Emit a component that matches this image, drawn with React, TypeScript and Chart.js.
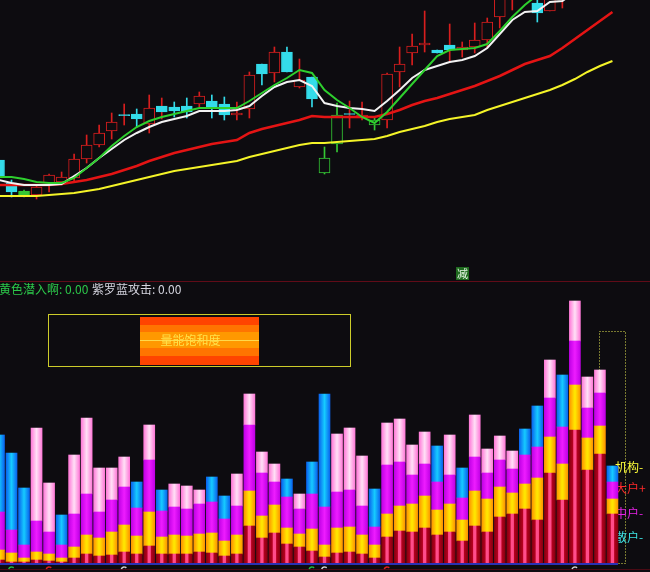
import React, { useEffect, useRef } from "react";
import { Chart, registerables } from "chart.js";

Chart.register(...registerables);

const BG = "#0d0c10";
const FONT = '"Noto Sans CJK SC", "Noto Sans", sans-serif';

// ---------- price panel data ----------
const open = [12.00,10.85,10.45,10.25,10.85,10.90,11.10,12.05,12.75,13.45,14.27,14.30,13.80,14.70,14.65,14.70,14.80,14.95,14.80,14.25,14.55,16.80,16.35,17.40,15.65,16.15,12.10,14.25,14.32,14.10,14.00,14.00,16.40,17.35,17.75,17.50,17.75,17.50,17.65,18.00,19.15,20.40,20.30,19.85,19.45,20.30,20.80,21.40,21.90,21.70];
const high = [12.20,11.00,10.50,10.70,11.30,11.40,12.30,13.25,13.75,14.35,14.80,14.55,15.25,15.10,14.90,15.10,15.40,15.25,15.15,14.90,16.40,16.80,17.65,17.65,17.05,16.15,12.65,14.85,14.95,14.90,14.10,16.35,17.65,18.30,19.45,17.50,18.80,17.90,18.85,19.10,20.50,21.20,21.10,20.20,20.70,21.20,21.60,22.10,22.30,22.60];
const low = [11.00,10.15,10.15,10.05,10.40,10.75,10.90,11.85,12.65,13.05,13.75,13.65,13.35,14.05,14.15,14.10,14.65,14.10,14.00,14.00,14.10,15.75,15.90,16.40,15.60,14.65,11.30,12.40,13.60,14.00,13.50,13.60,15.65,16.75,17.40,17.35,16.90,17.15,17.35,17.60,18.60,19.50,20.10,18.90,19.45,19.60,20.50,21.10,21.30,21.50];
const close = [11.15,10.40,10.25,10.65,11.25,11.15,12.05,12.75,13.35,13.90,14.22,14.05,14.60,14.40,14.45,14.40,15.20,14.60,14.25,14.35,16.25,16.30,17.40,16.40,16.00,15.05,11.35,12.80,14.28,14.25,13.75,16.30,16.80,17.70,17.85,17.35,17.50,17.65,18.00,18.90,20.25,21.00,20.90,19.35,20.50,20.90,21.40,21.90,21.60,22.40];
// u = red hollow, d = cyan, x = cyan with red wick, G = green filled, g = green hollow
const candleStyle = ["d","d","G","u","u","u","u","u","u","u","x","d","u","x","d","d","u","d","d","u","u","d","u","d","u","d","g","g","x","u","g","u","u","u","u","d","x","u","u","u","u","u","u","d","u","u","u","u","d","u"];

const ma5 = [11.15,11.15,11.05,10.90,10.85,10.85,11.10,11.60,12.10,12.70,13.20,13.65,13.95,14.15,14.30,14.45,14.60,14.60,14.60,14.60,14.95,15.35,15.75,16.10,16.50,16.35,15.50,15.00,14.60,14.15,13.85,14.40,15.10,15.80,16.50,17.20,17.50,17.55,17.60,17.80,18.45,19.15,19.75,20.25,20.75,21.25,21.75,22.25,22.75,23.25];
const ma10 = [11.00,10.85,10.75,10.75,10.75,10.80,11.20,11.60,12.10,12.55,13.00,13.35,13.65,13.90,14.05,14.20,14.45,14.45,14.45,14.50,14.70,15.20,15.65,15.90,16.00,15.70,14.85,14.70,14.60,14.55,14.45,14.95,15.50,16.10,16.50,16.70,16.90,17.00,17.20,17.60,18.30,19.00,19.40,19.45,19.90,19.95,20.40,20.80,21.20,21.60];
const ma20 = [10.75,10.75,10.75,10.75,10.75,10.80,10.90,11.00,11.15,11.30,11.50,11.70,11.95,12.15,12.35,12.50,12.65,12.80,12.90,13.00,13.35,13.55,13.70,13.85,14.00,14.20,14.15,14.15,14.15,14.15,14.15,14.30,14.50,14.75,14.95,15.10,15.30,15.50,15.70,15.95,16.20,16.50,16.80,17.00,17.20,17.60,18.05,18.50,18.95,19.40];
const ma60 = [10.20,10.20,10.20,10.20,10.25,10.30,10.35,10.45,10.55,10.70,10.85,11.00,11.15,11.30,11.45,11.55,11.65,11.75,11.85,11.95,12.15,12.30,12.45,12.60,12.75,12.85,12.85,12.90,12.95,13.00,13.05,13.20,13.40,13.55,13.70,13.90,14.05,14.15,14.25,14.50,14.70,14.90,15.10,15.30,15.50,15.75,16.05,16.40,16.70,16.95];

const SIGNAL_INDEX = 37;
const SIGNAL_TEXT = "减";

// ---------- volume panel data ----------
const dahu = [3,1,1,3,2,1,5,9,7,8,11,9,17,9,9,9,11,10,7,9,37,25,30,19,16,12,6,10,11,9,5,26,32,31,35,28,31,22,37,31,46,49,54,43,90,63,133,93,109,49];
const jigou = [10,9,4,8,7,4,11,19,18,23,27,18,34,17,19,18,18,20,15,19,35,22,28,16,13,22,12,25,25,19,13,23,25,28,32,25,28,21,35,33,30,21,25,42,36,36,45,32,28,15];
const zhonghu = [38,23,13,31,22,13,33,41,26,32,38,28,52,26,28,27,30,31,22,29,66,43,23,31,25,35,38,36,37,29,18,49,44,29,32,28,29,22,34,26,27,24,29,31,39,37,44,30,33,17];
const sanhu = [77,77,57,93,49,30,59,76,44,32,30,26,35,21,23,23,14,25,23,32,31,21,18,18,15,32,113,58,62,50,38,42,43,30,32,36,40,30,42,24,24,18,26,41,38,52,40,31,23,16];
const sanhuBlue = [1,1,1,0,0,1,0,0,0,0,0,1,0,1,0,0,0,1,1,0,0,0,0,1,0,1,1,0,0,0,1,0,0,0,0,1,0,1,0,0,0,0,1,1,0,1,0,0,0,1];

const headerItems = [
  { text: "黄色潜入啊: 0.00", color: "#2cc84a", x: -1 },
  { text: "紫罗蓝攻击: 0.00", color: "#d4d4de", x: 92 },
];
const gaugeLabel = "量能饱和度";
const legendItems = [
  { text: "机构-", color: "#ffff3a" },
  { text: "大户+", color: "#ff2a2a" },
  { text: "中户-", color: "#e622e6" },
  { text: "散户-", color: "#3ee6e6" },
];
const bottomMarks = [
  { i: 1, c: "#20c040" },
  { i: 4, c: "#e02020" },
  { i: 10, c: "#d0d0d0" },
  { i: 25, c: "#20c040" },
  { i: 26, c: "#d0d0d0" },
  { i: 31, c: "#e02020" },
  { i: 46, c: "#d0d0d0" },
];

const X_MIN = 0.08;
const X_MAX = 52.0;
const BAR_W = 11;
const CHART_W = 650;

const RED = "#d81e1e";
const CYAN = "#34dcea";
const GREEN = "#34c834";
const STYLE: Record<string, { fill: string; border: string; wick: string }> = {
  u: { fill: BG, border: RED, wick: RED },
  d: { fill: CYAN, border: CYAN, wick: CYAN },
  x: { fill: CYAN, border: CYAN, wick: RED },
  G: { fill: GREEN, border: GREEN, wick: GREEN },
  g: { fill: BG, border: GREEN, wick: GREEN },
};

const idx = open.map((_, i) => i);

function stripe(stops: [number, string][], fallback: string) {
  return (c: any) => {
    if (!c || c.type !== "data") return fallback;
    const chart = c.chart;
    const xs = chart.scales && chart.scales.x;
    const v = c.raw && c.raw.x !== undefined ? c.raw.x : c.dataIndex;
    let cx = xs ? xs.getPixelForValue(v) : NaN;
    if (!isFinite(cx)) {
      const ca = chart.chartArea;
      const left = ca && isFinite(ca.left) ? ca.left : 0;
      const w = ca && isFinite(ca.right) ? ca.right - ca.left : CHART_W;
      cx = left + ((v - X_MIN) / (X_MAX - X_MIN)) * w;
    }
    if (!isFinite(cx)) return fallback;
    const g = chart.ctx.createLinearGradient(cx - BAR_W / 2, 0, cx + BAR_W / 2, 0);
    stops.forEach(([o, col]) => g.addColorStop(o, col));
    return g;
  };
}

const redStops: [number, string][] = [[0, "#86000f"], [0.3, "#b4001e"], [0.4, "#ff4c8a"], [0.6, "#ff4c8a"], [0.7, "#b4001e"], [1, "#86000f"]];
const yellowStops: [number, string][] = [[0, "#ff9400"], [0.45, "#ffe400"], [0.55, "#ffe400"], [1, "#ff9400"]];
const magentaStops: [number, string][] = [[0, "#c000e6"], [0.5, "#ee1cff"], [1, "#c000e6"]];
const pinkStops: [number, string][] = [[0, "#ff7ad8"], [0.5, "#ffe0f6"], [1, "#ff7ad8"]];
const blueStops: [number, string][] = [[0, "#0a64ee"], [0.5, "#16cbff"], [1, "#0a64ee"]];

const pinkFill = stripe(pinkStops, "#ff99e6");
const blueFill = stripe(blueStops, "#1090ff");

const topPlugin = {
  id: "topDecor",
  beforeDraw(chart: any) {
    const { ctx, width, height } = chart;
    ctx.save();
    ctx.fillStyle = BG;
    ctx.fillRect(0, 0, width, height);
    ctx.restore();
  },
  afterDraw(chart: any) {
    const { ctx, width, height, scales } = chart;
    ctx.save();
    ctx.strokeStyle = "#600c18";
    ctx.lineWidth = 1;
    ctx.beginPath();
    ctx.moveTo(0, height - 0.5);
    ctx.lineTo(width, height - 0.5);
    ctx.stroke();
    const x = scales.x.getPixelForValue(SIGNAL_INDEX);
    const bx = Math.round(x - 6.5);
    const by = height - 15;
    ctx.fillStyle = "#1f6a1f";
    ctx.fillRect(bx, by, 13, 13);
    ctx.fillStyle = "#e6f6e6";
    ctx.font = "11px " + FONT;
    ctx.textAlign = "center";
    ctx.textBaseline = "middle";
    ctx.fillText(SIGNAL_TEXT, bx + 6.5, by + 7);
    ctx.restore();
  },
};

const bottomPlugin = {
  id: "bottomDecor",
  beforeDraw(chart: any) {
    const { ctx, width, height } = chart;
    ctx.save();
    ctx.fillStyle = BG;
    ctx.fillRect(0, 0, width, height);
    ctx.restore();
  },
  beforeDatasetsDraw(chart: any) {
    const { ctx } = chart;
    ctx.save();
    ctx.font = "12px " + FONT;
    ctx.textBaseline = "middle";
    ctx.textAlign = "left";
    headerItems.forEach((h) => {
      ctx.fillStyle = h.color;
      ctx.fillText(h.text, h.x, 7.5);
    });
    // gauge box
    ctx.strokeStyle = "#cccc2a";
    ctx.lineWidth = 1;
    ctx.strokeRect(48.5, 32.5, 302, 52);
    const bands = ["#ff4400", "#ff7400", "#ff9800", "#ff9800", "#ff7400", "#ff4400"];
    const bh = [8, 7, 8, 8, 8, 9];
    let yy = 35;
    bands.forEach((c, k) => {
      ctx.fillStyle = c;
      ctx.fillRect(140, yy, 119, bh[k]);
      yy += bh[k];
    });
    ctx.strokeStyle = "#ffd84a";
    ctx.beginPath();
    ctx.moveTo(140, 58.5);
    ctx.lineTo(259, 58.5);
    ctx.stroke();
    ctx.fillStyle = "#ffe24a";
    ctx.textAlign = "center";
    ctx.fillText(gaugeLabel, 190.5, 58.5);
    // dotted frame
    ctx.strokeStyle = "#e6e650";
    ctx.setLineDash([1, 2]);
    ctx.strokeRect(599.5, 49.5, 26, 232);
    ctx.setLineDash([]);
    // legend labels
    ctx.textAlign = "left";
    const ly = [185, 206, 231, 255];
    legendItems.forEach((l, k) => {
      ctx.fillStyle = l.color;
      ctx.fillText(l.text, 615, ly[k]);
    });
    ctx.restore();
  },
  afterDatasetsDraw(chart: any) {
    const { ctx, width, scales } = chart;
    const y0 = scales.y.getPixelForValue(0);
    const xEnd = scales.x.getPixelForValue(dahu.length - 1) + BAR_W / 2;
    ctx.save();
    ctx.strokeStyle = "#2a32b4";
    ctx.lineWidth = 2;
    ctx.beginPath();
    ctx.moveTo(0, y0 + 1);
    ctx.lineTo(xEnd, y0 + 1);
    ctx.stroke();
    ctx.strokeStyle = "#4a0a14";
    ctx.lineWidth = 1;
    ctx.beginPath();
    ctx.moveTo(0, y0 + 6.5);
    ctx.lineTo(width, y0 + 6.5);
    ctx.stroke();
    bottomMarks.forEach((m) => {
      const x = scales.x.getPixelForValue(m.i);
      ctx.strokeStyle = m.c;
      ctx.lineWidth = 1.5;
      ctx.beginPath();
      ctx.arc(x, y0 + 7, 3, Math.PI * 1.1, Math.PI * 1.75);
      ctx.stroke();
    });
    ctx.restore();
  },
};

export default function App() {
  const topRef = useRef<HTMLCanvasElement | null>(null);
  const botRef = useRef<HTMLCanvasElement | null>(null);

  useEffect(() => {
    if (!topRef.current || !botRef.current) return;
    const xScale = { type: "linear", min: X_MIN, max: X_MAX, display: false, offset: false, grid: { display: false } };

    const top = new Chart(topRef.current, {
      type: "bar",
      data: {
        datasets: [
          { type: "line", label: "MA5", data: ma5.map((v, i) => ({ x: i, y: v })), borderColor: "#2ed02e", borderWidth: 2, pointRadius: 0, tension: 0, order: 0 },
          { type: "line", label: "MA10", data: ma10.map((v, i) => ({ x: i, y: v })), borderColor: "#f2f2f2", borderWidth: 2, pointRadius: 0, tension: 0, order: 1 },
          { type: "line", label: "MA20", data: ma20.map((v, i) => ({ x: i, y: v })), borderColor: "#e41414", borderWidth: 2.5, pointRadius: 0, tension: 0, order: 2 },
          { type: "line", label: "MA60", data: ma60.map((v, i) => ({ x: i, y: v })), borderColor: "#f4f428", borderWidth: 2, pointRadius: 0, tension: 0, order: 3 },
          {
            type: "bar", label: "body",
            data: idx.map((i) => ({ x: i, y: [open[i], close[i]] })),
            backgroundColor: idx.map((i) => STYLE[candleStyle[i]].fill),
            borderColor: idx.map((i) => STYLE[candleStyle[i]].border),
            borderWidth: 1, borderSkipped: false, barThickness: BAR_W, grouped: false, order: 5,
          },
          {
            type: "bar", label: "wick",
            data: idx.map((i) => ({ x: i, y: [low[i], high[i]] })),
            backgroundColor: idx.map((i) => STYLE[candleStyle[i]].wick),
            borderWidth: 0, barThickness: 1, grouped: false, order: 6,
          },
        ],
      } as any,
      options: {
        responsive: false,
        animation: false,
        events: [],
        layout: { padding: 0 },
        plugins: { legend: { display: false }, tooltip: { enabled: false } },
        scales: {
          x: xScale as any,
          y: { type: "linear", min: 5.9, max: 20, display: false },
        },
      },
      plugins: [topPlugin],
    });

    const bottom = new Chart(botRef.current, {
      type: "bar",
      data: {
        datasets: [
          { label: "大户", data: dahu.map((v, i) => ({ x: i, y: v })), backgroundColor: stripe(redStops, "#b4001e"), borderWidth: 0, barThickness: BAR_W },
          { label: "机构", data: jigou.map((v, i) => ({ x: i, y: v })), backgroundColor: stripe(yellowStops, "#ffd000"), borderWidth: 0, barThickness: BAR_W },
          { label: "中户", data: zhonghu.map((v, i) => ({ x: i, y: v })), backgroundColor: stripe(magentaStops, "#e000ff"), borderWidth: 0, barThickness: BAR_W },
          {
            label: "散户", data: sanhu.map((v, i) => ({ x: i, y: v })),
            backgroundColor: (c: any) => (c && c.type === "data" && sanhuBlue[c.dataIndex] ? blueFill(c) : pinkFill(c)),
            borderWidth: 0, barThickness: BAR_W,
          },
        ],
      } as any,
      options: {
        responsive: false,
        animation: false,
        events: [],
        layout: { padding: 0 },
        plugins: { legend: { display: false }, tooltip: { enabled: false } },
        scales: {
          x: { ...(xScale as any), stacked: true },
          y: { type: "linear", min: -9, max: 281, display: false, stacked: true },
        },
      },
      plugins: [bottomPlugin],
    });

    return () => {
      top.destroy();
      bottom.destroy();
    };
  }, []);

  return (
    <div style={{ position: "fixed", left: 0, top: 0, width: 650, height: 572, background: BG, overflow: "hidden" }}>
      <canvas ref={topRef} width={650} height={282} style={{ display: "block", width: 650, height: 282 }} />
      <canvas ref={botRef} width={650} height={290} style={{ display: "block", width: 650, height: 290 }} />
    </div>
  );
}
